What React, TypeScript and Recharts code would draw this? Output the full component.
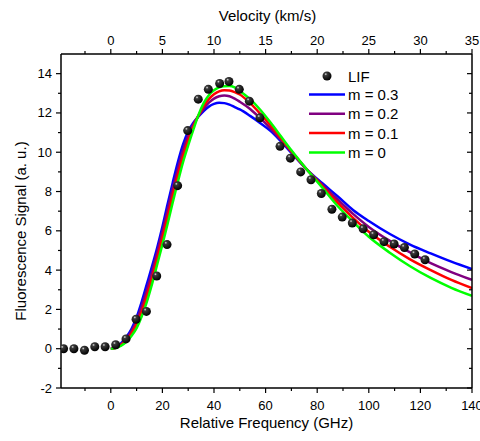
import React from "react"
import { ComposedChart, Legend, Line, Scatter, XAxis, YAxis } from "recharts"

const lifFreq = [
  -18.3, -14.3, -10.2, -6.2, -2.2, 1.9, 5.9, 9.8, 13.8, 17.8, 21.8, 25.9, 29.8, 33.9, 37.8, 42.2, 45.8, 49.8,
  53.7, 57.8, 65.6, 69.6, 73.6, 77.6, 81.6, 85.7, 89.7, 93.6, 97.8, 101.9, 105.9, 109.8, 113.8, 117.8, 121.8,
]
const lifSignal = [
  0.0, 0.0, -0.08, 0.1, 0.1, 0.2, 0.5, 1.5, 1.9, 3.7, 5.3, 8.3, 11.1, 12.7, 13.2, 13.5, 13.6, 13.2, 12.6, 11.75,
  10.3, 9.7, 9.0, 8.6, 7.9, 7.1, 6.7, 6.4, 6.1, 5.8, 5.45, 5.33, 5.15, 4.82, 4.53,
]

// model curves
const fitFreq = [
  0, 2, 4, 6, 8, 10, 12, 14, 16, 18, 20, 22, 24, 26, 28, 30, 32, 34, 36, 38, 40, 42, 44, 46, 48, 50, 54, 58, 62, 66,
  70, 76, 82, 88, 94, 100, 108, 116, 124, 132, 140,
]
const fitM03 = [
  0, 0.07, 0.28, 0.58, 1.0, 1.6, 2.4, 3.3, 4.2, 5.15, 6.2, 7.35, 8.45, 9.5, 10.4, 11.05, 11.5, 11.82, 12.1, 12.32,
  12.46, 12.52, 12.5, 12.42, 12.3, 12.18, 11.85, 11.48, 11.08, 10.55, 9.97, 9.12, 8.42, 7.75, 7.05, 6.5, 5.85, 5.3,
  4.85, 4.43, 4.05,
]
const fitM02 = [
  0, 0.05, 0.23, 0.5, 0.88, 1.42, 2.15, 3.0, 3.9, 4.9, 5.95, 7.05, 8.15, 9.15, 10.1, 10.85, 11.42, 11.85, 12.22,
  12.52, 12.73, 12.85, 12.89, 12.85, 12.73, 12.57, 12.2, 11.72, 11.2, 10.62, 10.02, 9.12, 8.34, 7.58, 6.85, 6.2, 5.5,
  4.9, 4.35, 3.9, 3.5,
]
const fitM01 = [
  0, 0.04, 0.19, 0.43, 0.77, 1.25, 1.9, 2.7, 3.6, 4.6, 5.65, 6.7, 7.8, 8.85, 9.8, 10.6, 11.3, 11.88, 12.35, 12.7,
  12.95, 13.1, 13.16, 13.14, 13.06, 12.94, 12.5, 11.95, 11.35, 10.7, 10.05, 9.12, 8.27, 7.42, 6.65, 5.95, 5.2, 4.55,
  4.0, 3.5, 3.08,
]
const fitM0 = [
  0, 0.03, 0.15, 0.35, 0.65, 1.05, 1.65, 2.4, 3.3, 4.3, 5.3, 6.35, 7.45, 8.5, 9.5, 10.35, 11.15, 11.9, 12.5, 12.9,
  13.15, 13.3, 13.36, 13.37, 13.3, 13.12, 12.7, 12.15, 11.5, 10.8, 10.1, 9.12, 8.2, 7.25, 6.45, 5.7, 4.9, 4.2, 3.6,
  3.1, 2.69,
]

const fitNames = ["m = 0.3", "m = 0.2", "m = 0.1", "m = 0"]
const fitColors = ["#0000ff", "#800080", "#ff0000", "#00ff00"]
const fitValues = [fitM03, fitM02, fitM01, fitM0]

// axis ticks
const freqMajor = [0, 20, 40, 60, 80, 100, 120, 140]
const freqMinor = [-10, 10, 30, 50, 70, 90, 110, 130]
const velMajor = [0, 5, 10, 15, 20, 25, 30, 35]
const velMinor = [-2.5, 2.5, 7.5, 12.5, 17.5, 22.5, 27.5, 32.5]
const sigMajor = [-2, 0, 2, 4, 6, 8, 10, 12, 14]
const sigMinor = [-1, 1, 3, 5, 7, 9, 11, 13]

const FONT = '"Liberation Sans", Arial, Helvetica, sans-serif'
const W = 480
const H = 441
const LEFT = 61
const RIGHT = 472
const TOP = 54
const BOTTOM = 388
const FREQ_MIN = -19.3
const FREQ_MAX = 140
// velocity (km/s) = frequency (GHz) / 4

const lifData = lifFreq.map((f, i) => ({ f, vel: f / 4, v: lifSignal[i] }))
const fits = fitNames.map((name, k) => ({
  name,
  color: fitColors[k],
  data: fitFreq.map((f, i) => ({ f, v: fitValues[k][i] })),
}))

const merge = (a: number[], b: number[]) => [...a, ...b].sort((x, y) => x - y)
const isMajor = (list: number[], v: number) => list.some((m) => Math.abs(m - v) < 1e-6)

const Ball = ({ cx, cy, id }: { cx: number; cy: number; id: string }) => (
  <g>
    <defs>
      <radialGradient id={id} cx="36%" cy="30%" r="70%">
        <stop offset="0%" stopColor="#e8e8e8" />
        <stop offset="22%" stopColor="#3a3a3a" />
        <stop offset="100%" stopColor="#000" />
      </radialGradient>
    </defs>
    <circle cx={cx} cy={cy} r={4.5} fill={`url(#${id})`} />
  </g>
)

const txt = { fontFamily: FONT, fill: "#000" }

const BottomTick = ({ x, payload }: any) => {
  const major = isMajor(freqMajor, payload.value)
  return (
    <g>
      <line x1={x} x2={x} y1={BOTTOM} y2={BOTTOM + (major ? 5 : 3)} stroke="#000" strokeWidth={1.2} />
      {major && (
        <text x={x} y={410} textAnchor="middle" fontSize={13} {...txt}>
          {payload.value}
        </text>
      )}
    </g>
  )
}

const TopTick = ({ x, payload }: any) => {
  const major = isMajor(velMajor, payload.value)
  return (
    <g>
      <line x1={x} x2={x} y1={TOP} y2={TOP - (major ? 5 : 3)} stroke="#000" strokeWidth={1.2} />
      {major && (
        <text x={x} y={45} textAnchor="middle" fontSize={13} {...txt}>
          {payload.value}
        </text>
      )}
    </g>
  )
}

const LeftTick = ({ y, payload }: any) => {
  const major = isMajor(sigMajor, payload.value)
  return (
    <g>
      <line x1={LEFT} x2={LEFT - (major ? 5 : 3)} y1={y} y2={y} stroke="#000" strokeWidth={1.2} />
      {major && (
        <text x={52} y={y + 4.5} textAnchor="end" fontSize={13} {...txt}>
          {payload.value}
        </text>
      )}
    </g>
  )
}

const RightTick = ({ y, payload }: any) => {
  const major = isMajor(sigMajor, payload.value)
  return <line x1={RIGHT} x2={RIGHT - (major ? 5 : 3)} y1={y} y2={y} stroke="#000" strokeWidth={1.2} />
}

const LegendBox = () => (
  <svg width={130} height={96} style={{ display: "block" }}>
    <Ball cx={27} cy={12} id="ball-legend" />
    <text x={48} y={17.5} fontSize={15} {...txt}>
      LIF
    </text>
    {fits.map((s, i) => {
      const y = 30.5 + i * 19.3
      return (
        <g key={s.name}>
          <line x1={9} x2={45} y1={y} y2={y} stroke={s.color} strokeWidth={2.5} />
          <text x={48} y={y + 5.4} fontSize={15} {...txt}>
            {s.name}
          </text>
        </g>
      )
    })}
  </svg>
)

export default function App() {
  return (
    <div style={{ position: "absolute", left: 0, top: 0, width: W, height: H, background: "#fff" }}>
      <ComposedChart width={W} height={H} margin={{ top: 0, right: 0, bottom: 0, left: 0 }}>
        <XAxis
          dataKey="f"
          type="number"
          domain={[FREQ_MIN, FREQ_MAX]}
          allowDataOverflow
          ticks={merge(freqMajor, freqMinor)}
          interval={0}
          height={H - BOTTOM}
          tickLine={false}
          axisLine={{ stroke: "#000", strokeWidth: 1.5 }}
          tick={<BottomTick />}
          label={() => (
            <text x={(LEFT + RIGHT) / 2} y={428} textAnchor="middle" fontSize={15} {...txt}>
              Relative Frequency (GHz)
            </text>
          )}
        />
        <XAxis
          xAxisId="top"
          dataKey="vel"
          orientation="top"
          type="number"
          domain={[FREQ_MIN / 4, FREQ_MAX / 4]}
          allowDataOverflow
          ticks={merge(velMajor, velMinor)}
          interval={0}
          height={TOP}
          tickLine={false}
          axisLine={{ stroke: "#000", strokeWidth: 1.5 }}
          tick={<TopTick />}
          label={() => (
            <text x={(LEFT + RIGHT) / 2 + 1} y={20.5} textAnchor="middle" fontSize={15} {...txt}>
              Velocity (km/s)
            </text>
          )}
        />
        <YAxis
          type="number"
          domain={[-2, 15]}
          allowDataOverflow
          ticks={merge(sigMajor, sigMinor)}
          interval={0}
          width={LEFT}
          tickLine={false}
          axisLine={{ stroke: "#000", strokeWidth: 1.5 }}
          tick={<LeftTick />}
          label={() => (
            <text x={25.5} y={231} transform="rotate(-90 25.5 231)" textAnchor="middle" fontSize={15} {...txt}>
              Fluorescence Signal (a. u.)
            </text>
          )}
        />
        <YAxis
          yAxisId="right"
          orientation="right"
          type="number"
          domain={[-2, 15]}
          allowDataOverflow
          ticks={merge(sigMajor, sigMinor)}
          interval={0}
          width={W - RIGHT}
          tickLine={false}
          axisLine={{ stroke: "#000", strokeWidth: 1.5 }}
          tick={<RightTick />}
        />
        {/* same LIF data on the velocity / right axes, invisible, so those axes get drawn */}
        <Line
          data={lifData}
          xAxisId="top"
          yAxisId="right"
          dataKey="v"
          stroke="none"
          dot={false}
          activeDot={false}
          legendType="none"
          isAnimationActive={false}
        />
        {fits.map((s) => (
          <Line
            key={s.name}
            data={s.data}
            dataKey="v"
            name={s.name}
            type="monotone"
            stroke={s.color}
            strokeWidth={2.5}
            dot={false}
            activeDot={false}
            isAnimationActive={false}
          />
        ))}
        <Scatter
          data={lifData}
          dataKey="v"
          name="LIF"
          isAnimationActive={false}
          shape={(p: any) => {
            const cx = p.cx ?? p.x + p.width / 2
            const cy = p.cy ?? p.y + p.height / 2
            return <Ball cx={cx} cy={cy} id={`ball-${Math.round(cx)}-${Math.round(cy)}`} />
          }}
        />
        <Legend
          layout="horizontal"
          verticalAlign="middle"
          align="center"
          content={<LegendBox />}
          wrapperStyle={{ position: "absolute", left: 300, top: 64, width: 130, height: 96 }}
        />
      </ComposedChart>
    </div>
  )
}
